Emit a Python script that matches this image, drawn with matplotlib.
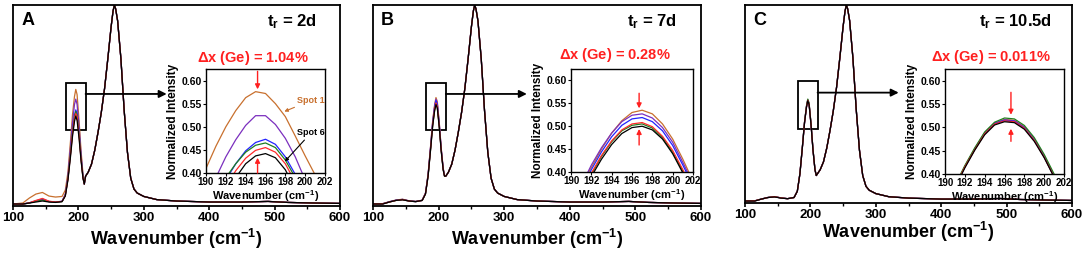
import matplotlib
matplotlib.use("Agg")
import matplotlib.pyplot as plt
from matplotlib.patches import Rectangle
from matplotlib.ticker import MultipleLocator

plt.rcParams['font.family'] = ['Liberation Sans', 'DejaVu Sans']
plt.rcParams['font.weight'] = 'bold'
plt.rcParams['mathtext.fontset'] = 'custom'
plt.rcParams['mathtext.rm'] = 'Liberation Sans:bold'
plt.rcParams['mathtext.bf'] = 'Liberation Sans:bold'
plt.rcParams['mathtext.it'] = 'Liberation Sans:bold'

colors = ['#C8702E', '#7B2FBE', '#2323FF', '#1F7F1F', '#FF2A2A', '#000000']

# main spectra: low wavenumber part differs per spot, high part shared
wn_low = [100, 115, 125, 135, 145, 155, 165, 175, 180, 184, 188, 191, 194, 196, 198, 201, 204, 207, 209]
wn_high = [211, 215, 220, 225, 230, 235, 240, 245, 250, 253, 255, 257, 260, 265, 270, 275, 280,
           285, 290, 300, 320, 350, 400, 450, 490, 520, 560, 600]
int_high = [0.14, 0.16, 0.20, 0.27, 0.36, 0.46, 0.58, 0.73, 0.89, 0.97, 1.0, 0.98, 0.92, 0.73, 0.47,
            0.26, 0.13, 0.075, 0.055, 0.038, 0.022, 0.015, 0.01, 0.01, 0.013, 0.008, 0.005, 0.003]

low_A = [
    [0.0, 0.005, 0.03, 0.05, 0.058, 0.04, 0.035, 0.038, 0.07, 0.16, 0.32, 0.45, 0.54, 0.576, 0.55, 0.42, 0.27, 0.15, 0.11],
    [0.0, 0.0, 0.005, 0.015, 0.022, 0.012, 0.01, 0.014, 0.05, 0.14, 0.29, 0.41, 0.50, 0.527, 0.50, 0.39, 0.25, 0.14, 0.10],
    [0.0, 0.0, 0.006, 0.016, 0.025, 0.013, 0.01, 0.013, 0.045, 0.13, 0.26, 0.37, 0.445, 0.473, 0.455, 0.36, 0.235, 0.135, 0.10],
    [0.0, 0.0, 0.005, 0.014, 0.02, 0.012, 0.009, 0.012, 0.044, 0.128, 0.255, 0.36, 0.44, 0.465, 0.448, 0.355, 0.23, 0.133, 0.10],
    [0.0, 0.0, 0.006, 0.018, 0.028, 0.014, 0.01, 0.013, 0.043, 0.125, 0.25, 0.355, 0.43, 0.455, 0.44, 0.345, 0.225, 0.132, 0.10],
    [0.0, 0.0, 0.005, 0.01, 0.015, 0.01, 0.008, 0.012, 0.04, 0.12, 0.24, 0.34, 0.415, 0.442, 0.42, 0.33, 0.22, 0.13, 0.10],
]
low_B = [
    [0.0, 0.002, 0.012, 0.02, 0.024, 0.016, 0.013, 0.019, 0.055, 0.15, 0.30, 0.42, 0.50, 0.535, 0.515, 0.41, 0.28, 0.18, 0.145],
    [0.0, 0.002, 0.011, 0.019, 0.023, 0.016, 0.013, 0.019, 0.054, 0.148, 0.296, 0.414, 0.494, 0.527, 0.508, 0.405, 0.277, 0.178, 0.143],
    [0.0, 0.001, 0.011, 0.019, 0.023, 0.015, 0.012, 0.018, 0.053, 0.146, 0.292, 0.408, 0.487, 0.519, 0.50, 0.40, 0.274, 0.176, 0.142],
    [0.0, 0.001, 0.01, 0.018, 0.022, 0.015, 0.012, 0.018, 0.051, 0.142, 0.284, 0.397, 0.474, 0.505, 0.487, 0.39, 0.268, 0.173, 0.14],
    [0.0, 0.001, 0.01, 0.018, 0.022, 0.015, 0.012, 0.018, 0.052, 0.143, 0.286, 0.40, 0.477, 0.508, 0.49, 0.392, 0.27, 0.174, 0.141],
    [0.0, 0.0, 0.01, 0.018, 0.021, 0.015, 0.012, 0.018, 0.05, 0.14, 0.28, 0.393, 0.47, 0.50, 0.482, 0.386, 0.265, 0.172, 0.14],
]
low_C = [
    [0.0, 0.001, 0.01, 0.018, 0.022, 0.016, 0.012, 0.018, 0.05, 0.14, 0.285, 0.40, 0.48, 0.515, 0.495, 0.39, 0.26, 0.16, 0.13],
    [0.0, 0.001, 0.01, 0.018, 0.022, 0.016, 0.012, 0.018, 0.05, 0.14, 0.285, 0.40, 0.482, 0.516, 0.496, 0.39, 0.26, 0.16, 0.13],
    [0.0, 0.001, 0.01, 0.018, 0.022, 0.016, 0.012, 0.018, 0.05, 0.14, 0.285, 0.40, 0.481, 0.515, 0.495, 0.39, 0.26, 0.16, 0.13],
    [0.0, 0.001, 0.01, 0.018, 0.022, 0.016, 0.012, 0.018, 0.05, 0.14, 0.287, 0.403, 0.486, 0.52, 0.50, 0.393, 0.262, 0.16, 0.13],
    [0.0, 0.001, 0.01, 0.018, 0.022, 0.016, 0.012, 0.018, 0.05, 0.14, 0.284, 0.40, 0.48, 0.514, 0.494, 0.39, 0.26, 0.16, 0.13],
    [0.0, 0.0, 0.01, 0.018, 0.021, 0.015, 0.012, 0.018, 0.05, 0.14, 0.283, 0.398, 0.478, 0.512, 0.492, 0.388, 0.258, 0.16, 0.13],
]

# inset zoom of the ~196 cm-1 peak
wn_inset = [190, 191, 192, 193, 194, 195, 196, 197, 198, 199, 200, 201, 202]
inset_A = [
    [0.41, 0.458, 0.50, 0.535, 0.563, 0.576, 0.572, 0.55, 0.522, 0.48, 0.437, 0.396, 0.35],
    [0.34, 0.39, 0.435, 0.472, 0.503, 0.524, 0.524, 0.505, 0.475, 0.435, 0.385, 0.33, 0.28],
    [0.27, 0.32, 0.385, 0.42, 0.448, 0.466, 0.473, 0.462, 0.435, 0.397, 0.35, 0.30, 0.25],
    [0.27, 0.32, 0.39, 0.42, 0.445, 0.46, 0.465, 0.455, 0.428, 0.39, 0.345, 0.30, 0.25],
    [0.26, 0.31, 0.37, 0.405, 0.432, 0.449, 0.455, 0.445, 0.42, 0.38, 0.335, 0.29, 0.24],
    [0.25, 0.30, 0.35, 0.39, 0.42, 0.437, 0.442, 0.433, 0.407, 0.365, 0.32, 0.27, 0.22],
]
inset_B = [
    [0.32, 0.37, 0.41, 0.45, 0.485, 0.512, 0.53, 0.535, 0.527, 0.505, 0.472, 0.428, 0.38],
    [0.32, 0.37, 0.415, 0.453, 0.485, 0.51, 0.524, 0.527, 0.518, 0.497, 0.465, 0.421, 0.375],
    [0.31, 0.36, 0.405, 0.444, 0.477, 0.502, 0.516, 0.519, 0.51, 0.49, 0.458, 0.415, 0.37],
    [0.30, 0.35, 0.395, 0.434, 0.466, 0.49, 0.502, 0.505, 0.496, 0.475, 0.443, 0.402, 0.357],
    [0.30, 0.35, 0.397, 0.436, 0.468, 0.492, 0.505, 0.508, 0.499, 0.478, 0.447, 0.405, 0.36],
    [0.295, 0.345, 0.39, 0.428, 0.46, 0.484, 0.497, 0.50, 0.492, 0.472, 0.44, 0.398, 0.353],
]
inset_C = [
    [0.33, 0.373, 0.416, 0.454, 0.488, 0.509, 0.517, 0.515, 0.501, 0.475, 0.439, 0.397, 0.35],
    [0.33, 0.373, 0.416, 0.454, 0.488, 0.509, 0.516, 0.514, 0.5, 0.474, 0.438, 0.396, 0.35],
    [0.33, 0.372, 0.415, 0.453, 0.487, 0.508, 0.515, 0.513, 0.499, 0.473, 0.437, 0.395, 0.35],
    [0.33, 0.375, 0.418, 0.456, 0.49, 0.511, 0.52, 0.518, 0.504, 0.478, 0.442, 0.40, 0.35],
    [0.33, 0.372, 0.415, 0.452, 0.486, 0.507, 0.514, 0.512, 0.498, 0.472, 0.436, 0.394, 0.348],
    [0.32, 0.37, 0.413, 0.451, 0.484, 0.505, 0.512, 0.51, 0.496, 0.47, 0.435, 0.393, 0.345],
]

letters = ['A', 'B', 'C']
times = ['2d', '7d', '10.5d']
deltas = ['1.04%', '0.28%', '0.011%']
# red arrows: x, (down from, down to), (up from, up to)
red_arrows = [
    (195.2, (0.62, 0.581), (0.40, 0.433)),
    (196.7, (0.572, 0.539), (0.459, 0.494)),
    (196.65, (0.575, 0.527), (0.47, 0.497)),
]

W, H = 1084, 256
main_px = [(13, 340, 5, 206), (373, 701, 5, 206), (745, 1072, 5, 203)]
inset_px = [(206, 325, 69, 173), (571, 693, 69, 172), (945, 1064, 69, 174)]
arrow_tip = [0.47, 0.469, 0.47]
time_x = [0.93, 0.926, 0.94]
delta_pos = [(253, 58), (615, 55), (991, 57)]
labelpads = [2, 2, -1]


def frac(l, r, t, b):
    return [l / W, 1 - b / H, (r - l) / W, (b - t) / H]


fig = plt.figure(figsize=(W / 100, H / 100), dpi=100)

for i in range(3):
    ax = fig.add_axes(frac(*main_px[i]))
    lows = [low_A, low_B, low_C][i]
    for c, low in zip(colors, lows):
        ax.plot(wn_low + wn_high, low + int_high, color=c, lw=0.9)
    ax.set_xlim(100, 600)
    ax.set_ylim(-0.01, 1.0)
    ax.set_yticks([])
    ax.xaxis.set_major_locator(MultipleLocator(100))
    ax.xaxis.set_minor_locator(MultipleLocator(50))
    ax.tick_params(axis='x', which='major', direction='out', length=3, width=1.2,
                   labelsize=9.5, pad=1.5)
    ax.tick_params(axis='x', which='minor', direction='out', length=2, width=1)
    for s in ax.spines.values():
        s.set_linewidth(1.3)
    ax.set_xlabel('Wavenumber (cm$^{-1}$)', fontsize=13, fontweight='bold',
                  labelpad=labelpads[i])
    ax.text(0.025, 0.965, letters[i], transform=ax.transAxes, fontsize=13,
            fontweight='bold', ha='left', va='top')
    ax.text(time_x[i], 0.915, r'$\mathbf{t_r}$ = ' + times[i], transform=ax.transAxes,
            fontsize=12, fontweight='bold', ha='right', va='center')
    ax.add_patch(Rectangle((181, 0.37), 30, 0.24, fill=False, lw=1.3, ec='k'))
    ax.annotate('', xy=(arrow_tip[i], 0.553), xycoords=('axes fraction', 'data'),
                xytext=(211, 0.553), textcoords='data',
                arrowprops=dict(arrowstyle='-|>', lw=1.3, color='k',
                                mutation_scale=11, shrinkA=0, shrinkB=0))
    fig.text(delta_pos[i][0] / W, 1 - delta_pos[i][1] / H,
             r'$\Delta$x (Ge) = ' + deltas[i], color='#FF2020', fontsize=10.5,
             fontweight='bold', ha='center', va='center')

    # inset
    axi = fig.add_axes(frac(*inset_px[i]))
    ins = [inset_A, inset_B, inset_C][i]
    for c, y in zip(colors, ins):
        axi.plot(wn_inset, y, color=c, lw=0.9)
    axi.set_xlim(190, 202)
    axi.set_ylim(0.40, 0.625)
    axi.set_xticks([190, 192, 194, 196, 198, 200, 202])
    axi.set_yticks([0.40, 0.45, 0.50, 0.55, 0.60])
    axi.set_yticklabels(['0.40', '0.45', '0.50', '0.55', '0.60'])
    axi.tick_params(direction='out', length=2, width=0.8, pad=1)
    axi.tick_params(axis='x', labelsize=7)
    axi.tick_params(axis='y', labelsize=7.5)
    for s in axi.spines.values():
        s.set_linewidth(1.0)
    axi.set_xlabel('Wavenumber (cm$^{-1}$)', fontsize=8, fontweight='bold', labelpad=1)
    axi.set_ylabel('Normalized Intensity', fontsize=8.5, fontweight='bold', labelpad=2)

    xa, dn, up = red_arrows[i]
    for y0, y1 in (dn, up):
        axi.annotate('', xy=(xa, y1), xytext=(xa, y0),
                     arrowprops=dict(arrowstyle='-|>', lw=1.0, color='#FF2020',
                                     mutation_scale=7, shrinkA=0, shrinkB=0),
                     annotation_clip=False)

    if i == 0:
        axi.annotate('Spot 1', xy=(197.9, 0.533), xytext=(199.2, 0.557),
                     color=colors[0], fontsize=6.5, fontweight='bold', va='center',
                     arrowprops=dict(arrowstyle='-|>', lw=0.8, color=colors[0],
                                     mutation_scale=5, shrinkA=0, shrinkB=0))
        axi.annotate('Spot 6', xy=(197.95, 0.425), xytext=(199.2, 0.487),
                     color='k', fontsize=6.5, fontweight='bold', va='center',
                     arrowprops=dict(arrowstyle='-|>', lw=0.8, color='k',
                                     mutation_scale=5, shrinkA=0, shrinkB=0))

fig.savefig('out.png', dpi=100)
